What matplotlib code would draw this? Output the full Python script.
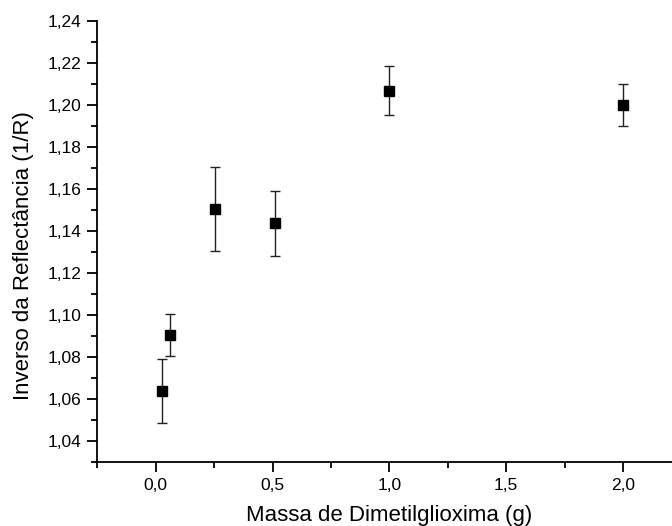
import matplotlib.pyplot as plt
from matplotlib.ticker import MultipleLocator, FuncFormatter

plt.rcParams['font.family'] = ['Liberation Sans', 'DejaVu Sans']

# Dados
massa = [0.028, 0.061, 0.253, 0.511, 1.0, 2.0]
inv_refl = [1.0635, 1.0901, 1.1501, 1.1434, 1.2066, 1.2000]
erro = [0.0152, 0.0100, 0.0200, 0.0153, 0.0116, 0.0100]

fig = plt.figure(figsize=(6.72, 5.26), dpi=100)
ax = fig.add_axes([0.145, 0.1222, 0.869, 0.8388])

ax.errorbar(massa, inv_refl, yerr=erro, fmt='s', color='black', ecolor='#222222',
            markersize=6.5, elinewidth=1.0, capsize=3.8, capthick=1.0)

ax.set_xlim(-0.25, 2.25)
ax.set_ylim(1.03, 1.24)

ax.xaxis.set_major_locator(MultipleLocator(0.5))
ax.xaxis.set_minor_locator(MultipleLocator(0.25))
ax.yaxis.set_major_locator(MultipleLocator(0.02))
ax.yaxis.set_minor_locator(MultipleLocator(0.01))

ax.xaxis.set_major_formatter(FuncFormatter(lambda v, p: f'{v:.1f}'.replace('.', ',')))
ax.yaxis.set_major_formatter(FuncFormatter(lambda v, p: f'{v:.2f}'.replace('.', ',')))

for s in ['top', 'right']:
    ax.spines[s].set_visible(False)
for s in ['left', 'bottom']:
    ax.spines[s].set_linewidth(1.3)

ax.tick_params(which='major', direction='out', length=7, width=1.3, labelsize=12.5, pad=4.5)
ax.tick_params(which='minor', direction='out', length=4, width=1.3)

ax.set_xlabel('Massa de Dimetilglioxima (g)', fontsize=16)
ax.set_ylabel('Inverso da Reflectância (1/R)', fontsize=16)
ax.xaxis.set_label_coords(0.5, -0.098)
ax.yaxis.set_label_coords(-0.108, 0.468)

fig.savefig('out.png', dpi=100)
